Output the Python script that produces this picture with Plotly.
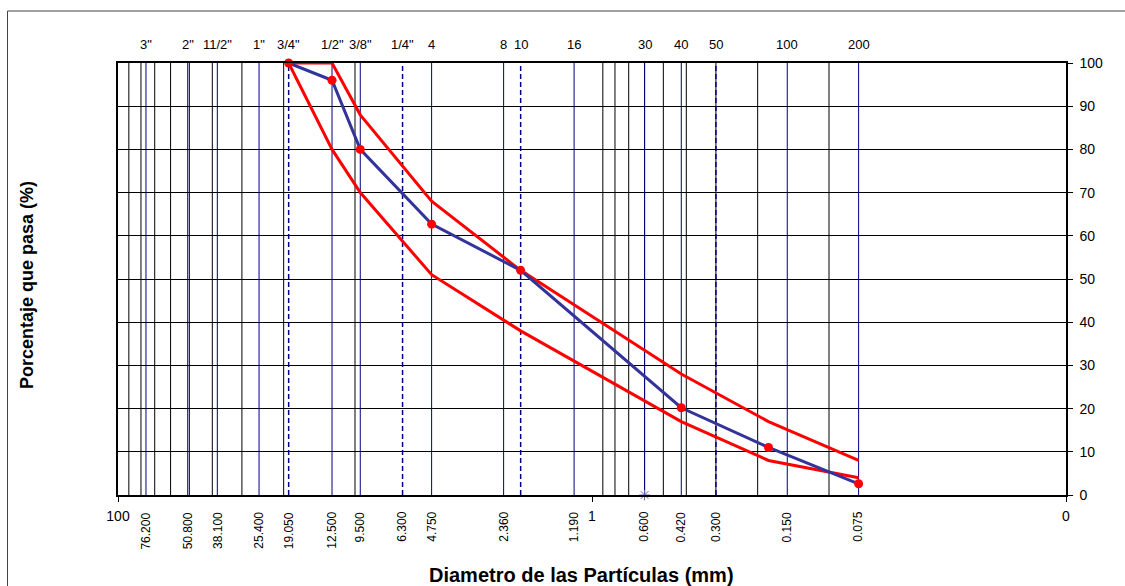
import math
import plotly.graph_objects as go

# ---------------- data ----------------
# measured gradation (blue curve with red markers)
diam_mm = [19.05, 12.5, 9.5, 4.75, 2.0, 0.42, 0.18, 0.075]
pasa_pct = [100, 96, 80, 62.7, 52, 20.2, 11, 2.6]
# specification envelope (red)
lim_sup = [100, 100, 88, 68, 52, 28, 17, 8]
lim_inf = [100, 80, 70, 51, 38, 17, 8, 4]

# sieve lines and their names (top labels)
sieve_mm = [76.2, 50.8, 38.1, 25.4, 19.05, 12.5, 9.5, 6.3, 4.75, 2.36, 2.0,
            1.19, 0.6, 0.42, 0.3, 0.15, 0.075]
sieve_names = ['3"', '2"', '11/2"', '1"', '3/4"', '1/2"', '3/8"', '1/4"', '4',
               '8', '10', '16', '30', '40', '50', '100', '200']
sieve_dashed = [19.05, 6.3, 2.0, 0.3]
# rotated labels under the axis
bottom_mm = [76.2, 50.8, 38.1, 25.4, 19.05, 12.5, 9.5, 6.3, 4.75, 2.36,
             1.19, 0.6, 0.42, 0.3, 0.15, 0.075]
# black log grid lines
grid_black = [90, 80, 70, 60, 50, 40, 30, 20, 10,
              0.9, 0.8, 0.7, 0.6, 0.5, 0.4, 0.3, 0.2, 0.1]
# extra point marked on the axis
star_x = [0.6]
star_y = [0]

x_ticks = [100, 1, 0.01]
x_ticktext = ["100", "1", "0"]
y_ticks = list(range(0, 101, 10))

FONT = "Arial, Liberation Sans, sans-serif"


def vlines(xs):
    X, Y = [], []
    for v in xs:
        X += [v, v, None]
        Y += [0, 100, None]
    return X, Y


fig = go.Figure()

gx, gy = vlines(grid_black)
fig.add_trace(go.Scatter(x=gx, y=gy, mode="lines",
                         line=dict(color="#000000", width=1),
                         hoverinfo="skip", showlegend=False))

solid = [s for s in sieve_mm if s not in sieve_dashed]
sx, sy = vlines(solid)
fig.add_trace(go.Scatter(x=sx, y=sy, mode="lines",
                         line=dict(color="#000080", width=1),
                         hoverinfo="skip", showlegend=False))
dx, dy = vlines(sieve_dashed)
fig.add_trace(go.Scatter(x=dx, y=dy, mode="lines",
                         line=dict(color="#000080", width=1.5, dash="5px,3px"),
                         hoverinfo="skip", showlegend=False))

fig.add_trace(go.Scatter(x=diam_mm, y=lim_sup, mode="lines",
                         line=dict(color="#FF0000", width=3),
                         cliponaxis=False, showlegend=False))
fig.add_trace(go.Scatter(x=diam_mm, y=lim_inf, mode="lines",
                         line=dict(color="#FF0000", width=3),
                         cliponaxis=False, showlegend=False))
fig.add_trace(go.Scatter(x=diam_mm, y=pasa_pct, mode="lines+markers",
                         line=dict(color="#333399", width=3),
                         marker=dict(color="#FF0000", size=9, symbol="circle"),
                         cliponaxis=False, showlegend=False))
fig.add_trace(go.Scatter(x=star_x, y=star_y, mode="markers",
                         marker=dict(color="#6666AA", size=9,
                                     symbol="asterisk-open",
                                     line=dict(color="#6666AA", width=1)),
                         cliponaxis=False, showlegend=False))

annotations = []
for d, name in zip(sieve_mm, sieve_names):
    annotations.append(dict(x=math.log10(d), y=1.0417, xref="x", yref="paper",
                            text=name, showarrow=False, xanchor="center",
                            yanchor="middle",
                            font=dict(family=FONT, size=13, color="#000")))
for d in bottom_mm:
    annotations.append(dict(x=math.log10(d), y=-0.035, xref="x", yref="paper",
                            text=f"{d:.3f}", showarrow=False, textangle=-90,
                            xanchor="center", yanchor="top",
                            font=dict(family=FONT, size=12, color="#000")))
annotations.append(dict(x=(581 - 118) / 948, y=(495 - 575) / 432, xref="paper",
                        yref="paper", text="<b>Diametro de las Partículas (mm)</b>",
                        showarrow=False, xanchor="center", yanchor="middle",
                        font=dict(family=FONT, size=20, color="#000")))
annotations.append(dict(x=(27 - 118) / 948, y=(495 - 285) / 432, xref="paper",
                        yref="paper", text="<b>Porcentaje que pasa (%)</b>",
                        showarrow=False, textangle=-90, xanchor="center",
                        yanchor="middle",
                        font=dict(family=FONT, size=18, color="#000")))

shapes = [dict(type="rect", xref="paper", yref="paper",
               x0=(7.5 - 118) / 948, y0=-3, x1=3, y1=(495 - 11) / 432,
               line=dict(color="#444444", width=1), fillcolor="rgba(0,0,0,0)",
               layer="below")]

fig.update_layout(
    width=1125, height=586,
    margin=dict(l=118, r=59, t=63, b=91),
    paper_bgcolor="white", plot_bgcolor="white",
    font=dict(family=FONT, color="#000"),
    annotations=annotations, shapes=shapes,
    xaxis=dict(type="log", range=[2, -2], tickvals=x_ticks, ticktext=x_ticktext,
               ticks="outside", ticklen=5, tickcolor="#000",
               showgrid=False, zeroline=False, showline=True, mirror=True,
               linecolor="#000", linewidth=2, ticklabelstandoff=2,
               tickfont=dict(family=FONT, size=14, color="#000")),
    yaxis=dict(range=[0, 100], tickvals=y_ticks, side="right",
               ticks="outside", ticklen=5, tickcolor="#000",
               showgrid=True, gridcolor="#000", gridwidth=1,
               zeroline=False, showline=True, mirror=True,
               linecolor="#000", linewidth=1.5, ticklabelstandoff=4,
               tickfont=dict(family=FONT, size=14, color="#000")),
)

fig.write_html("out.html")
